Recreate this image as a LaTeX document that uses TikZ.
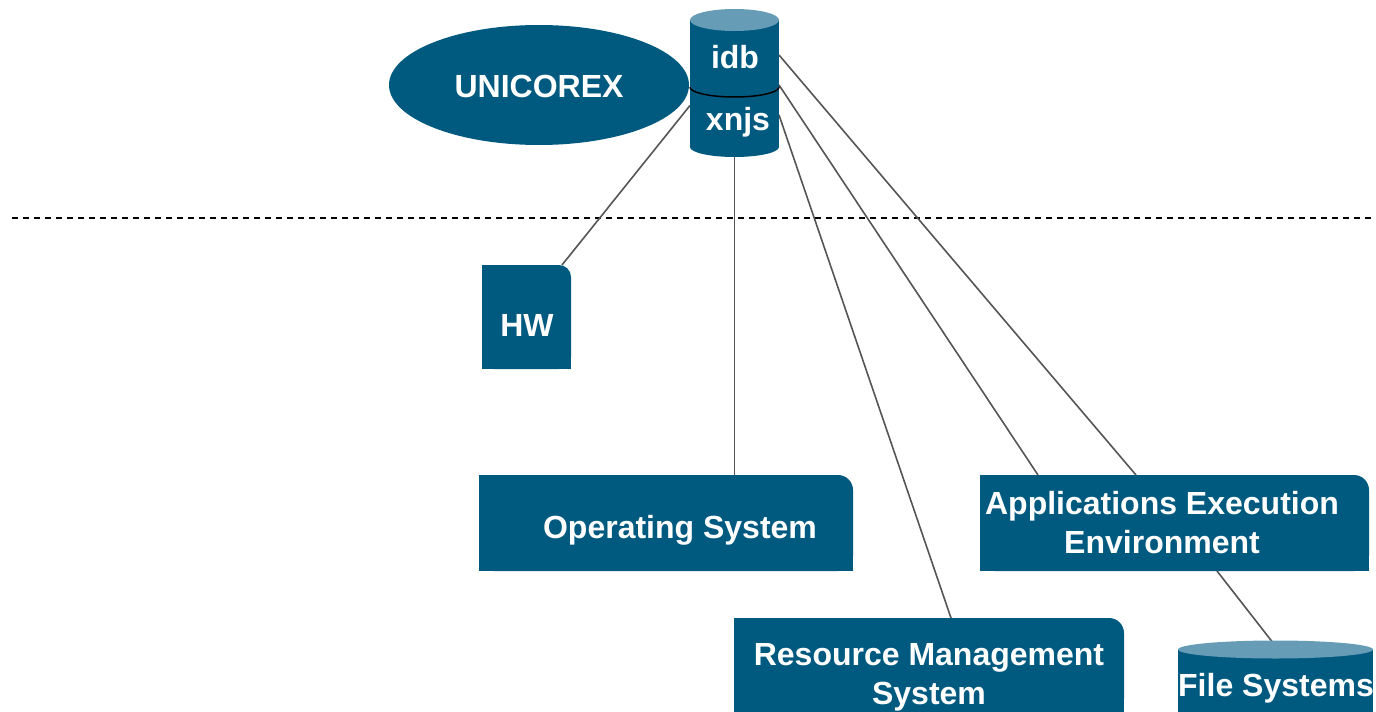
\documentclass[tikz,border=0pt]{standalone}
\usepackage{fontspec}
\setmainfont{Liberation Sans}
\usetikzlibrary{calc}
\definecolor{mainblue}{RGB}{0,90,128}
\definecolor{topblue}{RGB}{102,156,182}
\definecolor{linegray}{RGB}{85,85,85}
\tikzset{
  lbl/.style={text=white, font=\bfseries\fontsize{32}{39}\selectfont, align=center, inner sep=0pt},
  frame/.style={draw=none, fill=none, inner sep=0pt, outer sep=0pt},
  conn/.style={draw=linegray, line width=1.6pt},
}
\begin{document}
\begin{tikzpicture}[x=1pt, y=-1pt]
\useasboundingbox (0,0) rectangle (1376,712);

% dashed separator
\coordinate (dl) at (12,218);
\coordinate (dr) at (1376,218);
\draw[black, line width=1.3pt, dash pattern=on 6pt off 5pt] (dl) -- (dr);

% frames
\node[frame, minimum width=89pt, minimum height=104pt] (hw) at (526.5,317) {};
\node[frame, minimum width=374pt, minimum height=96pt] (os) at (666,523) {};
\node[frame, minimum width=390pt, minimum height=96pt] (rms) at (929,666) {};
\node[frame, minimum width=389pt, minimum height=96pt] (aee) at (1174.5,523) {};
\node[frame, minimum width=89pt, minimum height=127pt] (cyl) at (734.5,83.5) {};
\node[frame, minimum width=195pt, minimum height=70pt] (fs) at (1275.5,685) {};

% connectors (behind shapes)
\draw[conn] ($(hw.north east)+(-9,0)$) -- ($(cyl.west)+(0,22)$);
\draw[conn] (cyl.south) -- (os.north -| cyl.south);
\draw[conn] ($(cyl.east)+(0,31.5)$) -- ($(rms.north)+(22,0)$);
\draw[conn] ($(cyl.east)+(0,1.5)$) -- ($(aee.north)+(-136.5,0)$);
\draw[conn] ($(cyl.east)+(0,-28.5)$) -- ($(aee.north)+(-38.5,0)$);
\draw[conn] ($(aee.south)+(42.5,0)$) -- ($(fs.north)+(0,-4)$);

% one-rounded-corner boxes
\foreach \b/\r in {hw/12, os/15, rms/15, aee/15}{
  \fill[mainblue, rounded corners=\r pt] (\b.south west) rectangle (\b.north east);
  \fill[mainblue] (\b.south west) rectangle ($(\b.north east)+(-\r,0)$);
  \fill[mainblue] (\b.south west) rectangle ($(\b.north east)+(0,\r)$);
}

% UNICOREX ellipse
\node[frame, minimum width=300pt, minimum height=120pt] (uni) at (539,85) {};
\fill[mainblue] (uni.center) ellipse [x radius=150, y radius=60];

% idb / xnjs cylinder
\fill[mainblue] (690,20) rectangle (779,147);
\fill[mainblue] (734.5,147) ellipse [x radius=44.5, y radius=10];
\fill[topblue] (734.5,20) ellipse [x radius=44.5, y radius=11];
\draw[black, line width=1.5pt] plot[domain=180:360, samples=50] ({734.5+44.5*cos(\x)}, {87-10*sin(\x)});

% File Systems cylinder
\fill[mainblue] (1178,650) rectangle (1373,712);
\fill[topblue] (1275.5,649.5) ellipse [x radius=97.5, y radius=9];

% labels
\node[lbl] (unit) at (539,86) {UNICOREX};
\node[lbl] (idbt) at (735,57) {idb};
\node[lbl] (xnjst) at (738,122) {xnjs};
\node[lbl] (hwt) at (527,325) {HW};
\node[lbl] (ost) at (680,530) {Operating System};
\node[lbl] (aeet) at (1162,523) {Applications Execution\\Environment};
\node[lbl] (rmst) at (929,677) {Resource Management\\System};
\node[lbl] (fst) at (1276,688) {File Systems};
\end{tikzpicture}
\end{document}
